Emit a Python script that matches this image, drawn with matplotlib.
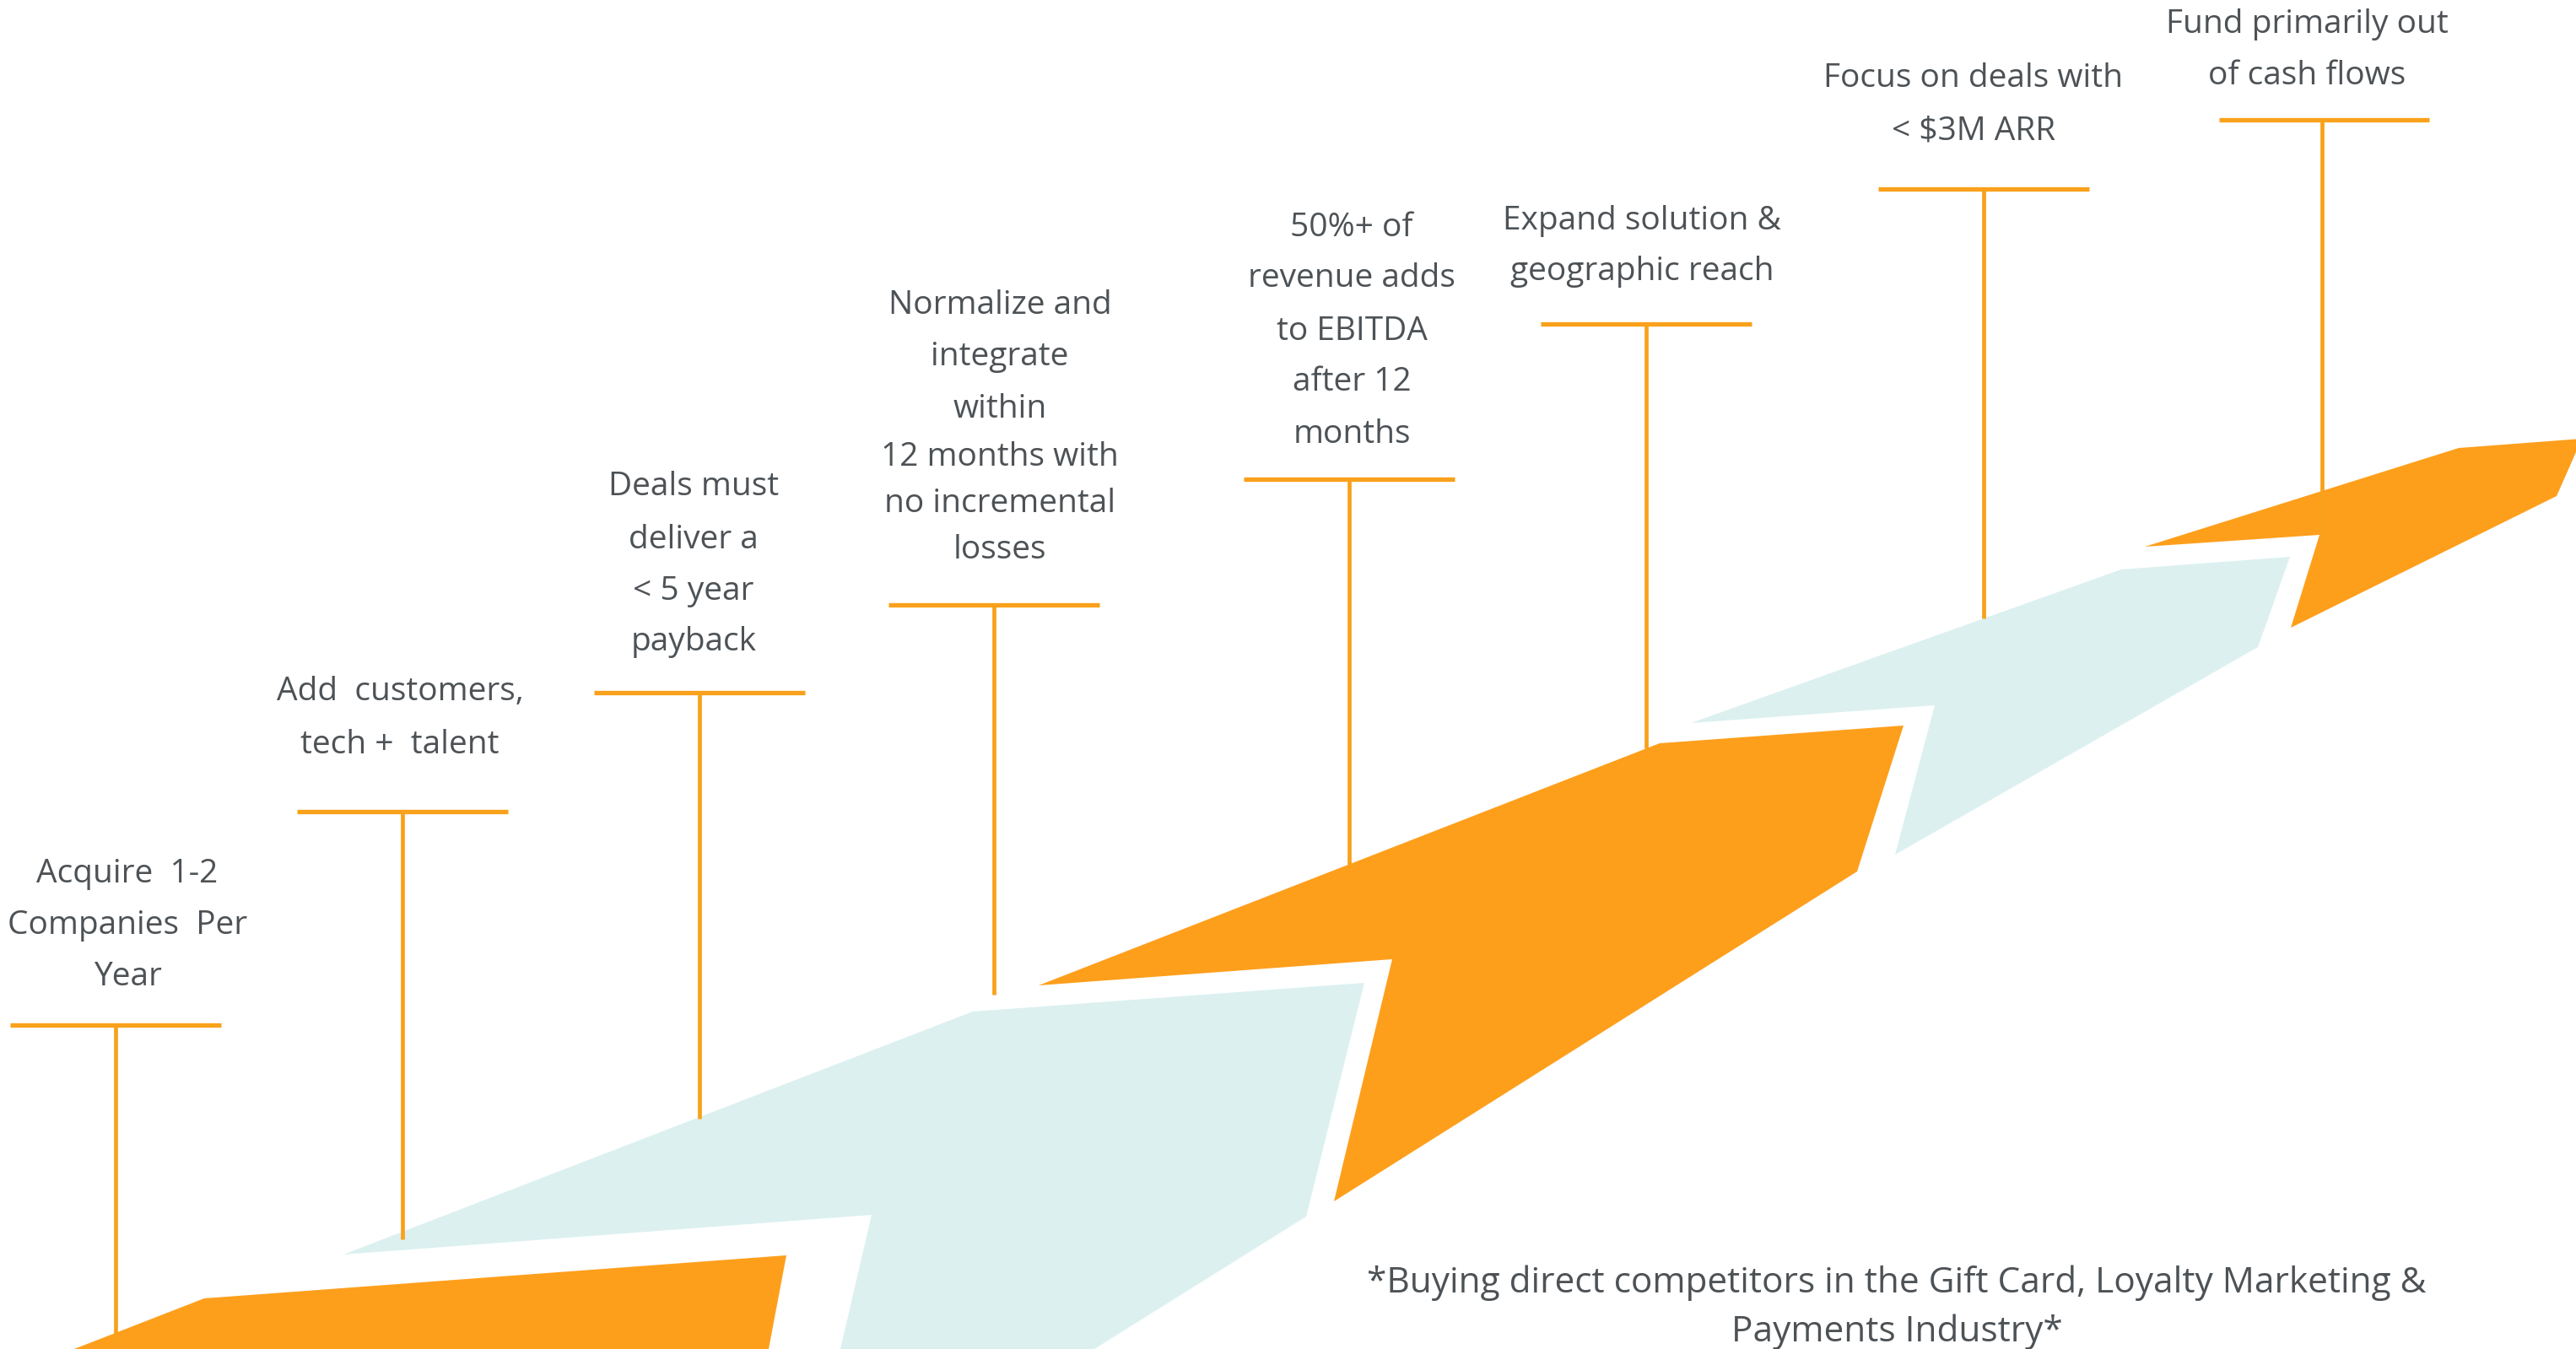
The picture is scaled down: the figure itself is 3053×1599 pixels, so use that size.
import matplotlib
matplotlib.use("Agg")
import matplotlib.pyplot as plt
from matplotlib.patches import Polygon

W, H = 3053, 1599

ORANGE = "#FE9F1C"
LINE = "#F9A11B"
BLUE = "#DCF0F0"
TEXT = "#4D5256"

# Arrow pieces (pixel coordinates of the original image)
orange_1 = [(88, 1599), (242, 1539), (932, 1488), (911, 1599)]
blue_1 = [(407, 1487), (1153, 1199), (1617, 1165), (1548, 1442),
          (1297, 1599), (996, 1599), (1033, 1440)]
orange_2 = [(1231, 1168), (1967, 881), (2256, 860), (2201, 1033),
            (1581, 1424), (1650, 1137)]
blue_2 = [(2004, 857), (2514, 675), (2714, 660), (2676, 767),
          (2246, 1013), (2293, 836)]
orange_3 = [(2542, 648), (2914, 531), (3060, 520), (3060, 520),
            (3030, 588), (2715, 744), (2749, 634)]

pieces = [(orange_1, ORANGE), (blue_1, BLUE), (orange_2, ORANGE),
          (blue_2, BLUE), (orange_3, ORANGE)]

# Milestone labels
labels = [
    ["Acquire  1-2", "Companies  Per", "Year"],
    ["Add  customers,", "tech +  talent"],
    ["Deals must", "deliver a", "< 5 year", "payback"],
    ["Normalize and", "integrate", "within", "12 months with",
     "no incremental", "losses"],
    ["50%+ of", "revenue adds", "to EBITDA", "after 12", "months"],
    ["Expand solution &", "geographic reach"],
    ["Focus on deals with", "< $3M ARR"],
    ["Fund primarily out", "of cash flows"],
]
label_x = [151, 474, 822, 1185, 1602, 1946, 2339, 2734]
label_baselines = [
    [1046, 1107, 1168],
    [830, 893],
    [587, 650, 711, 771],
    [372, 433, 495, 552, 607, 662],
    [280, 340, 403, 463, 525],
    [272, 332],
    [103, 165],
    [39, 100],
]

# T-markers: bar left, bar right, bar y, stem x, stem bottom
bar_left = [12, 352, 704, 1053, 1474, 1826, 2226, 2630]
bar_right = [262, 602, 954, 1303, 1724, 2076, 2476, 2879]
bar_y = [1215, 962, 821, 717, 568, 384, 224, 142]
stem_x = [137, 477, 829, 1178, 1599, 1951, 2351, 2752]
stem_bottom = [1599, 1469, 1326, 1179, 1025, 887, 733, 643]

footnote = ["*Buying direct competitors in the Gift Card, Loyalty Marketing &",
            "Payments Industry*"]
footnote_x = 2248
footnote_baselines = [1532, 1590]

plt.rcParams['font.family'] = ['Open Sans', 'DejaVu Sans']

fig = plt.figure(figsize=(W / 100, H / 100), dpi=100)
ax = fig.add_axes([0, 0, 1, 1])
ax.set_xlim(0, W)
ax.set_ylim(H, 0)
ax.axis("off")

for verts, col in pieces:
    ax.add_patch(Polygon(verts, closed=True, facecolor=col,
                         edgecolor="none", zorder=1))

for i in range(len(stem_x)):
    ax.plot([bar_left[i], bar_right[i]], [bar_y[i], bar_y[i]],
            color=LINE, lw=3.8, solid_capstyle="butt", zorder=3)
    ax.plot([stem_x[i], stem_x[i]], [bar_y[i], stem_bottom[i]],
            color=LINE, lw=3.4, solid_capstyle="butt", zorder=3)

FS = 28
for lines, x, ys in zip(labels, label_x, label_baselines):
    for t, y in zip(lines, ys):
        ax.text(x, y, t, ha="center", va="baseline", fontsize=FS,
                color=TEXT, zorder=4)

for t, y in zip(footnote, footnote_baselines):
    ax.text(footnote_x, y, t, ha="center", va="baseline", fontsize=30.5,
            color=TEXT, zorder=4)

fig.savefig("out.png", dpi=100, facecolor="white")
